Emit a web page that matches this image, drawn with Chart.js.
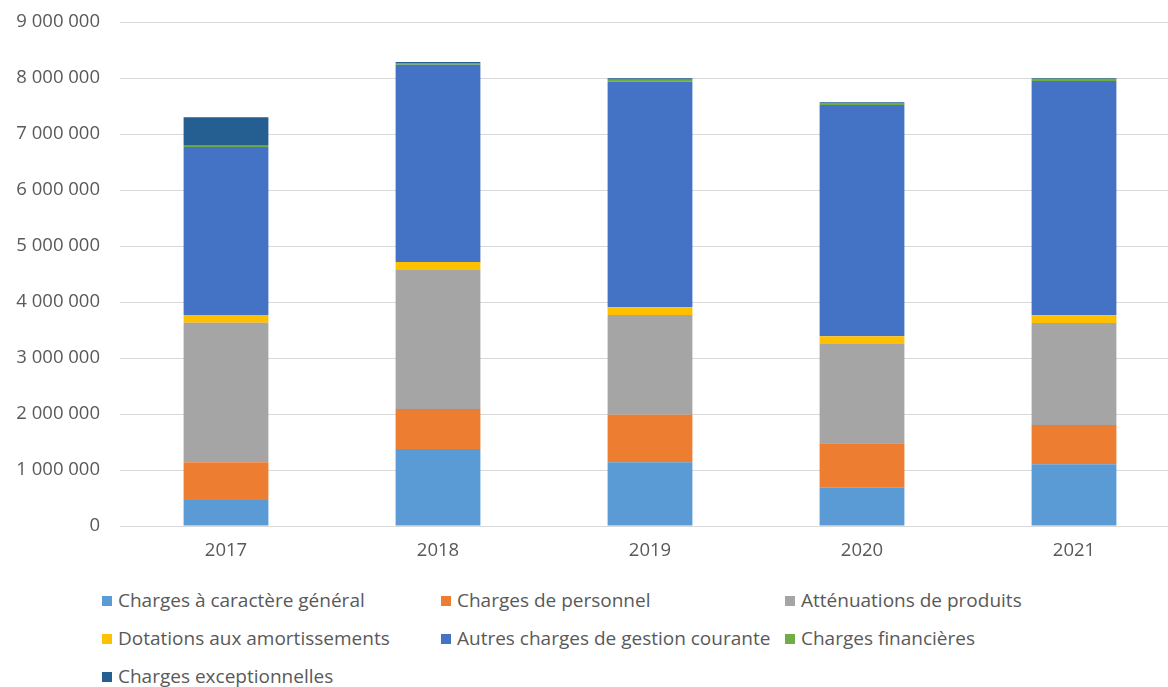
<!DOCTYPE html>
<html>
<head>
<meta charset="utf-8">
<script src="https://cdn.jsdelivr.net/npm/chart.js@4/dist/chart.umd.min.js"></script>
<style>
    html, body { margin: 0; padding: 0; background: #fff; overflow: hidden; }
    #wrap { position: relative; width: 1180px; height: 570px; }
    #legend {
        display: grid;
        grid-template-columns: 339px 344px 340px;
        margin-left: 102px;
        margin-top: 11px;
        font-family: "Open Sans", sans-serif;
        font-size: 19px;
        color: #595959;
    }
    .item { height: 38px; line-height: 38px; white-space: nowrap; }
    .box { display: inline-block; width: 10px; height: 10px; margin-right: 6px; vertical-align: 1px; }
</style>
</head>
<body>
<div id="wrap"><canvas id="myChart"></canvas></div>
<div id="legend"></div>
<script>
let annees = ['2017', '2018', '2019', '2020', '2021'];

let caractereGeneral = [464000, 1375000, 1137000, 685000, 1101000];
let personnel = [673000, 714000, 851000, 791000, 703000];
let attenuations = [2494000, 2482000, 1780000, 1774000, 1821000];
let dotations = [138000, 143000, 137000, 137000, 137000];
let autresCharges = [2998000, 3521000, 4029000, 4131000, 4184000];
let financieres = [25000, 35000, 35000, 35000, 40000];
let exceptionnelles = [505000, 15000, 25000, 15000, 15000];

let yTicks = [0, 1000000, 2000000, 3000000, 4000000, 5000000, 6000000, 7000000, 8000000, 9000000];

let series = [
    ['Charges à caractère général', caractereGeneral, '#5B9BD5'],
    ['Charges de personnel', personnel, '#ED7D31'],
    ['Atténuations de produits', attenuations, '#A5A5A5'],
    ['Dotations aux amortissements', dotations, '#FFC000'],
    ['Autres charges de gestion courante', autresCharges, '#4472C4'],
    ['Charges financières', financieres, '#70AD47'],
    ['Charges exceptionnelles', exceptionnelles, '#255E91']
];

function formatNombre(v) {
    return String(v).replace(/\B(?=(\d{3})+(?!\d))/g, ' ');
}

function buildLegend() {
    let legend = document.getElementById('legend');
    series.forEach(s => {
        let item = document.createElement('div');
        item.classList.add('item');
        let box = document.createElement('span');
        box.classList.add('box');
        box.style.background = s[2];
        item.appendChild(box);
        item.appendChild(document.createTextNode(s[0]));
        legend.appendChild(item);
    });
}

document.addEventListener('DOMContentLoaded', function () {
    const ctx = document.getElementById('myChart');

    let datasets = series.map(s => ({
        label: s[0],
        data: s[1],
        backgroundColor: s[2],
        borderWidth: 0,
        barPercentage: 0.4,
        categoryPercentage: 1
    }));

    new Chart(ctx, {
        type: 'bar',
        data: {
            labels: annees,
            datasets: datasets
        },
        options: {
            responsive: true,
            maintainAspectRatio: false,
            animation: false,
            layout: {
                padding: { top: 22, right: 0, bottom: 0, left: 0 }
            },
            plugins: {
                legend: { display: false },
                tooltip: { enabled: false }
            },
            scales: {
                x: {
                    stacked: true,
                    grid: { display: false, drawTicks: false },
                    border: { color: '#d9d9d9' },
                    ticks: {
                        color: '#595959',
                        padding: 14,
                        font: { family: 'Open Sans', size: 18.5 }
                    },
                    afterFit: (scale) => { scale.height = 44; }
                },
                y: {
                    stacked: true,
                    min: 0,
                    max: 9000000,
                    afterBuildTicks: (scale) => {
                        scale.ticks = yTicks.map(v => ({ value: v }));
                    },
                    grid: {
                        color: '#d9d9d9',
                        lineWidth: 1,
                        drawTicks: false
                    },
                    border: { display: false },
                    ticks: {
                        color: '#595959',
                        padding: 20,
                        font: { family: 'Open Sans', size: 18.5 },
                        callback: (v) => formatNombre(v)
                    },
                    afterFit: (scale) => {
                        scale.width = 120;
                        scale.paddingTop = 0;
                        scale.paddingBottom = 0;
                    }
                }
            }
        }
    });

    buildLegend();
});
</script>
</body>
</html>
